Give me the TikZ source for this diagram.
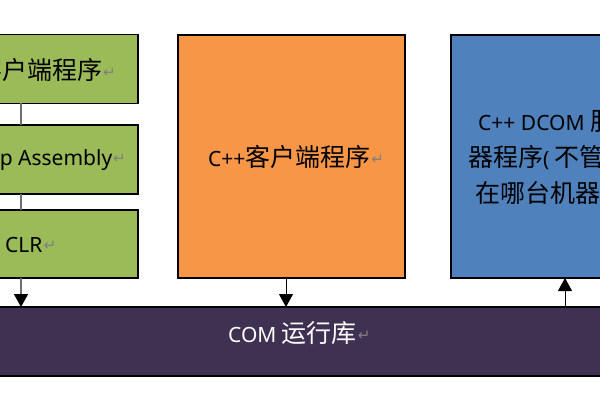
\documentclass[tikz,border=0pt]{standalone}
\usepackage{fontspec}
\setmainfont{Noto Sans}
\newfontfamily\cjk{Noto Sans CJK SC}[Scale=1.19]
\newfontfamily\arrfont{DejaVu Sans}
\usetikzlibrary{arrows.meta}
\definecolor{gfill}{HTML}{9BBB59}
\definecolor{ofill}{HTML}{F79646}
\definecolor{bfill}{HTML}{4F81BD}
\definecolor{pfill}{HTML}{3F3151}
\definecolor{pmgray}{HTML}{7F7F7F}
\definecolor{lgray}{HTML}{6E6E6E}
\newcommand{\pmark}{\hspace{1pt}\raisebox{2pt}{\arrfont\fontsize{15}{15}\selectfont\color{pmgray}↵}}
\begin{document}
\begin{tikzpicture}[x=1pt,y=-1pt,
  box/.style={draw=black,line width=1.1pt,inner sep=0pt,outer sep=0pt},
  txt/.style={inner sep=0pt,font=\fontsize{21}{25}\selectfont},
  conn/.style={draw=lgray,line width=1.3pt},
  arr/.style={draw=black,line width=1pt},
  tip/.style={-{Triangle[width=14pt,length=13pt,black]}}]
\useasboundingbox (0,0) rectangle (600,400);
\clip (0,0) rectangle (600,400);
\fill[white] (0,0) rectangle (600,400);
% boxes
\node[box,fill=gfill,minimum width=234pt,minimum height=68.6pt] (g1) at (21,69) {};
\node[box,fill=gfill,minimum width=234pt,minimum height=69pt] (g2) at (21,159.5) {};
\node[box,fill=gfill,minimum width=234pt,minimum height=68pt] (g3) at (21,244) {};
\node[box,fill=ofill,minimum width=227pt,minimum height=243pt] (o) at (291.5,156.5) {};
\node[box,fill=bfill,minimum width=186pt,minimum height=243pt] (b) at (544,156.5) {};
\node[box,fill=pfill,minimum width=620pt,minimum height=69pt] (bar) at (300,341.5) {};
% texts
\node[txt,anchor=base east] (t1) at (116,79) {C\#{\cjk 客户端程序}\pmark};
\node[txt,anchor=base east] (t2) at (126,165) {Interop Assembly\pmark};
\node[txt,anchor=base west] (t3) at (5,252) {CLR\pmark};
\node[txt,anchor=base west] (t4) at (208,166) {C++{\cjk 客户端程序}\pmark};
\node[txt,anchor=base west] (t5) at (478,130) {C++ DCOM {\cjk 服务}};
\node[txt,anchor=base west] (t6) at (468,166) {{\cjk 器程序}(\hspace{5pt}{\cjk 不管它}};
\node[txt,anchor=base west] (t7) at (475,202) {{\cjk 在哪台机器上}\hspace{1pt})};
\node[txt,anchor=base west,text=white] (t8) at (228,342) {COM {\cjk 运行库}\pmark};
% connectors
\coordinate (oc) at (286,0);
\coordinate (bc) at (565,0);
\draw[conn] (g1.south) -- (g2.north);
\draw[conn] (g2.south) -- (g3.north);
\draw[conn,tip] (g3.south) -- (g3.south |- bar.north);
\draw[arr,tip] (o.south -| oc) -- (bar.north -| oc);
\draw[arr,tip] (bar.north -| bc) -- (b.south -| bc);
\end{tikzpicture}
\end{document}
